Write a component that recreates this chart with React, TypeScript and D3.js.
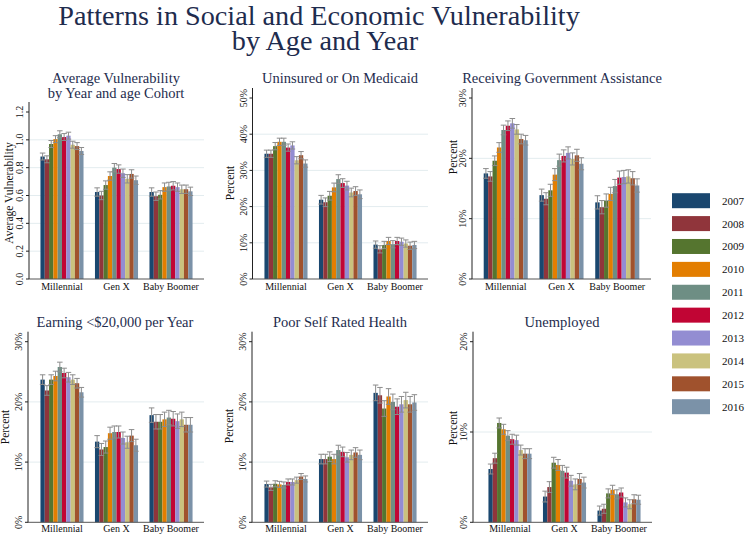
import React from "react";
import * as d3 from "d3";

const cohorts = ["Millennial", "Gen X", "Baby Boomer"];
const years = ["2007", "2008", "2009", "2010", "2011", "2012", "2013", "2014", "2015", "2016"];
const yearColors = ["#1a476f", "#90353b", "#55752f", "#e37e00", "#6e8e84", "#c10534", "#938dd2", "#cac27e", "#a0522d", "#7b92a8"];

// values: one row per cohort (Millennial, Gen X, Baby Boomer), one value per year
const avgVulnerability = [
  [0.88, 0.86, 0.97, 1.005, 1.04, 1.02, 1.03, 0.965, 0.955, 0.92],
  [0.625, 0.6, 0.675, 0.74, 0.8, 0.79, 0.76, 0.72, 0.755, 0.71],
  [0.625, 0.595, 0.605, 0.66, 0.665, 0.67, 0.66, 0.645, 0.645, 0.63],
];
const avgVulnerabilityErr = [0.025, 0.03, 0.03];

const uninsured = [
  [34.6, 34.6, 36.7, 37.9, 37.9, 36.3, 36.9, 32.8, 34.2, 31.9],
  [21.9, 21.2, 23.0, 25.3, 27.6, 26.5, 25.8, 23.9, 24.3, 23.4],
  [9.5, 8.2, 9.4, 10.5, 9.6, 10.5, 10.3, 9.8, 9.2, 9.4],
];
const uninsuredErr = [1.0, 1.2, 1.0];

const govAssistance = [
  [17.5, 17.0, 19.6, 21.8, 24.7, 25.4, 25.8, 24.8, 23.2, 23.0],
  [13.9, 13.3, 14.7, 17.3, 19.7, 20.4, 20.9, 19.9, 20.5, 19.1],
  [12.7, 11.9, 13.0, 14.1, 15.4, 16.8, 16.9, 17.0, 16.7, 15.5],
];
const govAssistanceErr = [0.8, 1.0, 1.1];

const lowEarning = [
  [23.7, 21.9, 23.7, 24.3, 25.8, 24.8, 24.1, 23.7, 23.1, 21.6],
  [13.4, 12.1, 12.5, 14.8, 15.0, 15.0, 14.0, 13.3, 14.4, 12.8],
  [17.8, 16.7, 16.7, 17.1, 17.4, 17.2, 16.8, 17.1, 16.2, 16.2],
];
const lowEarningErr = [0.8, 1.0, 1.2];

const poorHealth = [
  [6.35, 5.8, 6.4, 6.3, 6.2, 6.7, 6.7, 7.0, 7.6, 7.2],
  [10.5, 10.5, 10.9, 10.5, 12.0, 11.7, 10.8, 11.2, 11.6, 11.2],
  [21.5, 21.1, 18.9, 20.9, 20.0, 19.2, 19.6, 20.3, 19.6, 19.9],
];
const poorHealthErr = [0.5, 0.8, 1.3];

const unemployed = [
  [5.9, 7.1, 11.0, 10.3, 9.6, 9.2, 9.1, 8.0, 7.6, 7.6],
  [2.85, 3.9, 6.6, 6.35, 5.7, 5.5, 4.6, 4.2, 4.8, 4.4],
  [1.3, 1.5, 3.2, 3.6, 3.1, 3.3, 2.2, 2.0, 2.55, 2.5],
];
const unemployedErr = [0.55, 0.6, 0.5];

const avgTicks = [0, 0.2, 0.4, 0.6, 0.8, 1.0, 1.2];
const uninsuredTicks = [0, 10, 20, 30, 40, 50];
const govTicks = [0, 10, 20, 30];
const earningTicks = [0, 10, 20, 30];
const healthTicks = [0, 10, 20, 30];
const unempTicks = [0, 10, 20];

const FONT = '"Liberation Serif", "DejaVu Serif", "Times New Roman", serif';
const TITLE_COLOR = "#1e2c4e";
const fontStyle = { fontFamily: FONT };

type Panel = {
  title: string[];
  titleX: number;
  titleY: number;
  yLabel: string;
  yLabelX: number;
  yLabelY: number;
  data: number[][];
  err: number[];
  ticks: number[];
  fmt: (v: number) => string;
  axisX: number;
  bandX0: number;
  x1: number;
  yBottom: number;
  yTop: number;
  labelY: number;
};

const pct = (v: number) => `${v}%`;
const dec = (v: number) => v.toFixed(1);

const panels: Panel[] = [
  { title: ["Average Vulnerability", "by Year and age Cohort"], titleX: 116, titleY: 78, yLabel: "Average Vulnerability", yLabelX: 13, yLabelY: 193,
    data: avgVulnerability, err: avgVulnerabilityErr, ticks: avgTicks, fmt: dec, axisX: 29, bandX0: 29, x1: 204, yBottom: 279, yTop: 112, labelY: 290 },
  { title: ["Uninsured or On Medicaid"], titleX: 340, titleY: 78, yLabel: "Percent", yLabelX: 234, yLabelY: 183,
    data: uninsured, err: uninsuredErr, ticks: uninsuredTicks, fmt: pct, axisX: 252.5, bandX0: 253, x1: 428, yBottom: 279, yTop: 98, labelY: 290 },
  { title: ["Receiving Government Assistance"], titleX: 562, titleY: 78, yLabel: "Percent", yLabelX: 457, yLabelY: 157,
    data: govAssistance, err: govAssistanceErr, ticks: govTicks, fmt: pct, axisX: 472, bandX0: 472, x1: 651, yBottom: 279, yTop: 98, labelY: 290 },
  { title: ["Earning <$20,000 per Year"], titleX: 115, titleY: 322, yLabel: "Percent", yLabelX: 9, yLabelY: 427,
    data: lowEarning, err: lowEarningErr, ticks: earningTicks, fmt: pct, axisX: 28, bandX0: 29, x1: 204, yBottom: 522.3, yTop: 341.7, labelY: 532 },
  { title: ["Poor Self Rated Health"], titleX: 340, titleY: 322, yLabel: "Percent", yLabelX: 233, yLabelY: 426,
    data: poorHealth, err: poorHealthErr, ticks: healthTicks, fmt: pct, axisX: 252, bandX0: 253, x1: 428, yBottom: 522.3, yTop: 341.7, labelY: 532 },
  { title: ["Unemployed"], titleX: 562, titleY: 322, yLabel: "Percent", yLabelX: 457, yLabelY: 428,
    data: unemployed, err: unemployedErr, ticks: unempTicks, fmt: pct, axisX: 473, bandX0: 477, x1: 652, yBottom: 522.3, yTop: 341.7, labelY: 532 },
];

function PanelView({ p }: { p: Panel }) {
  const top = p.ticks[p.ticks.length - 1];
  const y = d3.scaleLinear().domain([0, top]).range([p.yBottom, p.yTop]);
  const xg = d3.scaleBand<string>().domain(cohorts).range([p.bandX0, p.x1]).paddingInner(0.21).paddingOuter(0.21);
  const xy = d3.scaleBand<string>().domain(years).range([0, xg.bandwidth()]).padding(0);
  const bw = xy.bandwidth();
  return (
    <g>
      {p.title.map((t, i) => (
        <text key={i} x={p.titleX} y={p.titleY + i * 15 + 5} textAnchor="middle" fontSize={14.5} fill={TITLE_COLOR} style={fontStyle}>{t}</text>
      ))}
      {p.ticks.slice(1, -1).map((t) => (
        <line key={"g" + t} x1={p.axisX} x2={p.x1} y1={y(t)} y2={y(t)} stroke="#e3ecef" strokeWidth={1} />
      ))}
      {cohorts.map((c, ci) => (
        <g key={c}>
          {years.map((yr, yi) => {
            const v = p.data[ci][yi];
            const bx = (xg(c) as number) + (xy(yr) as number);
            return (
              <rect key={yr} x={bx} y={y(v)} width={bw} height={p.yBottom - y(v)} fill={yearColors[yi]} />
            );
          })}
          {years.map((yr, yi) => {
            const v = p.data[ci][yi];
            const e = p.err[ci];
            const cx = (xg(c) as number) + (xy(yr) as number) + bw / 2;
            const hw = bw / 2 + 0.6;
            return (
              <g key={"e" + yr} stroke="#8c8c8c" strokeWidth={1}>
                <line x1={cx} x2={cx} y1={y(v - e)} y2={y(v + e)} />
                <line x1={cx - hw} x2={cx + hw} y1={y(v + e)} y2={y(v + e)} />
                <line x1={cx - hw} x2={cx + hw} y1={y(v - e)} y2={y(v - e)} />
              </g>
            );
          })}
          <text x={(xg(c) as number) + xg.bandwidth() / 2} y={p.labelY} textAnchor="middle" fontSize={10} style={fontStyle} fill="#111">{c}</text>
        </g>
      ))}
      <line x1={p.axisX} x2={p.x1} y1={p.yBottom} y2={p.yBottom} stroke="#555" strokeWidth={1} />
      <line x1={p.axisX} x2={p.axisX} y1={p.yBottom} y2={p.yTop - 10} stroke="#222" strokeWidth={1} />
      {p.ticks.map((t) => (
        <g key={"t" + t}>
          <line x1={p.axisX - 3} x2={p.axisX} y1={y(t)} y2={y(t)} stroke="#222" strokeWidth={1} />
          <text transform={`translate(${p.axisX - 6},${y(t)}) rotate(-90)`} textAnchor="middle" fontSize={10} style={fontStyle} fill="#111">{p.fmt(t)}</text>
        </g>
      ))}
      <text transform={`translate(${p.yLabelX},${p.yLabelY}) rotate(-90)`} textAnchor="middle" fontSize={11.5} style={fontStyle} fill="#111">{p.yLabel}</text>
    </g>
  );
}

export default function App() {
  const legendY = d3.scalePoint<string>().domain(years).range([200.7, 406.7]);
  return (
    <svg width={746} height={536} style={{ display: "block", position: "absolute", left: 0, top: 0, background: "#fff" }}>
      <rect x={0} y={0} width={746} height={536} fill="#fff" />
      <text x={319} y={25} textAnchor="middle" fontSize={28.2} fill={TITLE_COLOR} style={fontStyle}>Patterns in Social and Economic Vulnerability</text>
      <text x={325} y={50} textAnchor="middle" fontSize={28.2} fill={TITLE_COLOR} style={fontStyle}>by Age and Year</text>
      {panels.map((p, i) => <PanelView key={i} p={p} />)}
      {years.map((yr, i) => (
        <g key={yr}>
          <rect x={672} y={(legendY(yr) as number) - 7.5} width={38} height={15} fill={yearColors[i]} />
          <text x={722} y={(legendY(yr) as number) + 4} fontSize={11} style={fontStyle} fill="#111">{yr}</text>
        </g>
      ))}
    </svg>
  );
}
